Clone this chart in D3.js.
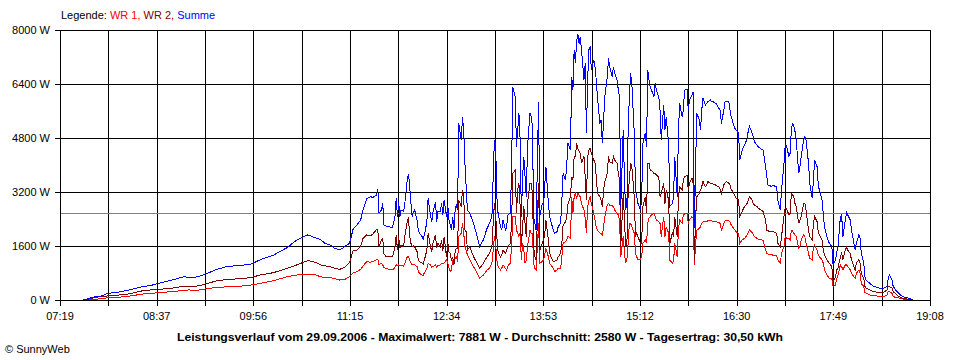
<!DOCTYPE html>
<html><head><meta charset="utf-8">
<script src="https://cdn.jsdelivr.net/npm/d3@7"></script>
<style>
html,body{margin:0;padding:0;background:#fff;}
svg{display:block;}
text{font-family:"Liberation Sans",Arial,sans-serif;font-size:11px;fill:#000;}
</style></head><body>
<svg id="chart" width="960" height="360"></svg>
<script>
// ---------- DATA ----------
const times = [
"07:38","07:42","07:48","07:53","07:58","08:05","08:13","08:20","08:27","08:34","08:41","08:50","09:00","09:04","09:08","09:13","09:19","09:27","09:35","09:46","09:54","10:02","10:13","10:24","10:32","10:41","10:48",
"10:51","10:55","10:59","11:03","11:07","11:11","11:15","11:18","11:21","11:24","11:26","11:29","11:32","11:34","11:37","11:38","11:39","11:41","11:42","11:43","11:45","11:47","11:50","11:52","11:53","11:54","11:55","11:56","11:57","11:59","12:00","12:02","12:03","12:04","12:05","12:06","12:07","12:08","12:10","12:11","12:12","12:14","12:15","12:16","12:18","12:19","12:21","12:22","12:23","12:25","12:26","12:27",
"12:29","12:30","12:31","12:32","12:34","12:35","12:36","12:37","12:38","12:39","12:40","12:41","12:42","12:43","12:44","12:46","12:47","12:48","12:49","12:50","12:51","12:53","12:56","12:59","13:01","13:04","13:07","13:09","13:11","13:12","13:13","13:14","13:15","13:16","13:18","13:19","13:20","13:22","13:23","13:24","13:26","13:27","13:28","13:30","13:31","13:32","13:33","13:34","13:35","13:36","13:37","13:38","13:39","13:40","13:42","13:43","13:44","13:45","13:46","13:47","13:49","13:50","13:52","13:53","13:54","13:55","13:57","13:58","14:01","14:02","14:04","14:05",
"14:07","14:08","14:09","14:11","14:12","14:13","14:15","14:16","14:17","14:18","14:19","14:20","14:21","14:22","14:23","14:24","14:26","14:27","14:28","14:29","14:30","14:31","14:32","14:34","14:35","14:36","14:37","14:39","14:40","14:41","14:42","14:43","14:45","14:46","14:47","14:49","14:50","14:51","14:53","14:54","14:55","14:56","14:58","14:59","15:00","15:01","15:02","15:03","15:04","15:05","15:07","15:08","15:09","15:10","15:12","15:13","15:14","15:16","15:17","15:18","15:19","15:20","15:21","15:23","15:24","15:25","15:27",
"15:28","15:29","15:31","15:32","15:33","15:35","15:36","15:38","15:39","15:40","15:42","15:43","15:44","15:46","15:47","15:48","15:50","15:51","15:52","15:54","15:55","15:56","15:57","15:58","16:00","16:01","16:02","16:03","16:05","16:06","16:07","16:09","16:10","16:11","16:13","16:14","16:16","16:17","16:18","16:20","16:21","16:22","16:24","16:25","16:26","16:28","16:29","16:30","16:32","16:33","16:35","16:36","16:37","16:39","16:40","16:41","16:43","16:44","16:45","16:47","16:48","16:50","16:51","16:52","16:54","16:55","16:56","16:58","16:59","17:00","17:02","17:03","17:04","17:06","17:07","17:09","17:10","17:11","17:13",
"17:14","17:15","17:16","17:17","17:18","17:19","17:21","17:22","17:23","17:25","17:26","17:27","17:29","17:30","17:32","17:33","17:34","17:36","17:37","17:38","17:40","17:41","17:42","17:44","17:45","17:46","17:48","17:49","17:51","17:52","17:53","17:55","17:56","17:57","17:59","18:00","18:01","18:03","18:04","18:06","18:07","18:08","18:10","18:11","18:12","18:14","18:15","18:16","18:19","18:22","18:25","18:27","18:30","18:33","18:34","18:35","18:37","18:38","18:41","18:44","18:46","18:49","18:52","18:54"
];
const summe = [
0,40,100,120,200,220,280,340,400,440,510,590,690,670,660,710,790,910,990,1030,1050,1190,1330,1550,1780,1930,1830,
1800,1680,1630,1530,1480,1580,1680,2120,2220,2370,2670,3010,3060,3040,3110,3280,2570,2670,2860,2220,2190,2170,2150,2470,3010,2470,2910,2470,2670,2620,2860,3560,3730,3360,2860,2470,2620,2670,2370,2070,1980,1880,1800,1930,2320,3010,2470,2320,2620,2910,2320,2620,
2620,2860,2520,2960,2470,2810,2370,2220,2070,2470,2070,2670,2810,2670,5230,4740,5410,5040,4050,3360,2670,2570,2270,1880,1580,1780,2120,2270,2470,3650,4740,4640,3050,2570,2170,2070,2370,2070,2170,2520,2570,3850,6320,6020,4540,5040,5530,4740,2470,3650,4250,3650,3060,4540,5530,5430,5140,2470,2270,2070,5880,2470,2860,2770,3360,3950,2860,2470,2070,1980,2020,2170,
2270,2960,3750,3560,4050,4640,4440,6620,6220,7410,7010,7650,7880,7600,7800,7410,6520,7010,4940,6520,7410,7510,6820,7110,6910,6520,6020,5230,5330,4640,5330,6020,6620,7160,6910,6620,6910,6720,6520,6220,6020,2770,5040,3560,2670,2860,5040,6020,6720,6420,4940,3260,3060,2860,2670,2960,4640,4940,4540,6820,6520,6320,6220,6020,6420,6220,6020,
5630,4740,5780,5040,5430,4640,2770,2860,3060,4250,3060,5040,5830,5430,5630,6220,6240,5630,5930,6070,6170,2120,4050,5530,5330,5040,5630,5980,5780,5830,5880,5930,5880,5880,5830,5810,5680,5630,5230,5630,5880,5880,5880,5630,5430,5190,5090,5040,4940,4150,4440,4540,4590,4790,5040,5140,4940,4840,4690,4590,4540,4490,4460,4440,3950,3650,3410,3380,3360,3410,3360,3360,2960,2670,3260,4050,4590,4590,4250,
4350,5040,5250,5140,4990,4740,3750,3950,4250,4740,4840,4740,4050,3460,3010,3560,4150,3950,3360,3260,2960,2570,2170,1880,1760,1680,1580,1040,1190,1430,1580,2470,2520,1880,2370,2590,2520,2370,2070,1680,1480,1680,1930,1830,1380,1090,690,590,490,400,380,350,350,400,640,740,590,400,250,150,100,70,30,0
];
const wr2 = [
0,20,80,100,120,140,170,220,280,300,320,350,410,400,400,430,490,570,610,630,660,740,810,940,1040,1170,1110,
1040,1010,990,940,910,970,1110,1480,1480,1600,1830,1930,1900,1960,2090,2070,1580,1780,1830,1360,1280,1300,1280,1580,1930,1480,1880,1530,1630,1580,1880,2320,2450,1880,1680,1580,1600,1580,1430,1190,1140,1090,1070,1190,1480,1980,1580,1430,1680,1930,1530,1680,
1580,1770,1450,1870,1280,1700,1430,1380,1180,1280,1030,1440,1530,1530,2960,2770,3260,3060,2070,2020,1480,1580,1280,1090,940,1090,1280,1380,1580,2270,2860,2570,1880,1430,1280,1330,1480,1380,1480,1580,1680,2270,3750,3850,2570,3260,3460,2770,1580,2170,2770,2270,1880,2860,3460,3460,3160,1580,1280,1190,3460,1480,1680,1780,1930,2370,1780,1380,1130,1140,1190,1280,
1380,1680,2220,2320,2470,2860,3060,3650,3560,4250,4250,4640,4490,4400,4350,4050,4250,3650,2960,4250,4440,4490,4350,4150,4050,3650,3160,3060,2960,2770,3260,3510,3750,4250,4100,4050,4250,4150,4050,3750,3560,1580,3160,2370,1580,1680,3160,3560,4050,3950,3060,1880,1980,1880,1680,1680,2770,3060,2570,4050,4050,3850,3850,3750,3750,3700,3650,
3060,3160,3460,2860,3260,2960,1680,1980,1880,2470,1880,3060,3360,3260,3560,3650,3700,3260,3460,3610,3460,1190,2470,3060,3160,3260,3360,3510,3360,3410,3510,3460,3460,3440,3410,3380,3360,3280,3160,3410,3480,3510,3460,3410,3280,3160,3080,3010,2960,2470,2620,2720,2770,2860,2960,3060,2960,2860,2810,2770,2720,2670,2650,2620,2370,2070,2050,2020,2020,2020,2000,1980,1680,1580,1880,2470,2720,2720,2520,
2570,3160,3110,3060,2860,2770,2270,2370,2470,2860,2860,2670,2070,1880,1780,2270,2470,2320,1980,1930,1780,1480,1330,1190,1140,1090,990,540,690,890,940,1280,1380,1190,1480,1560,1480,1380,1190,990,890,1090,1190,1090,790,640,400,350,300,250,230,220,220,300,400,400,350,250,150,70,50,30,10,0
];
const wr1 = [
0,10,20,40,70,80,100,140,180,200,220,250,280,300,280,300,340,370,390,410,440,490,570,690,740,770,740,
690,670,670,630,590,610,690,810,840,910,1010,1140,1120,1140,1190,1210,1040,1090,1040,970,930,910,890,970,1040,1010,1040,1010,1040,990,1090,1280,1300,1190,1090,1040,1060,1040,990,840,790,740,740,810,940,1090,1040,970,990,1040,970,1030,
1040,1090,1070,1090,1190,1110,940,840,890,1190,1040,1230,1280,1140,1880,1980,2270,1980,1580,1480,1330,1190,990,790,640,740,890,940,1090,1480,1880,1680,1190,990,890,940,1040,940,890,1010,1090,1580,2470,2470,2070,1980,1880,1980,1190,1680,1480,1090,1180,1580,2070,1980,1980,1090,940,890,2270,1090,1140,1190,1330,1530,1280,1090,940,840,890,940,
940,1280,1680,1730,1780,1880,1830,3060,2570,3060,3160,3010,3160,3110,3060,2860,2670,2420,1980,2770,2960,3060,2860,2570,2370,2170,2070,1980,1960,1930,2170,2470,2810,2860,2810,2790,2770,2670,2570,2520,2370,1280,1880,1380,1090,1190,1680,2270,2270,2170,1980,1380,1280,1190,1190,1280,1680,1780,1680,2270,2420,2470,2520,2570,2470,2370,2320,
2270,1880,2470,1880,2170,1980,1180,1090,1140,1680,1280,2070,2370,2270,2520,2550,2570,2270,2370,2470,2420,1040,1680,2070,2120,2170,2270,2320,2320,2320,2350,2370,2350,2320,2320,2320,2290,2270,2070,2270,2350,2370,2350,2320,2220,2120,2070,2020,1980,1680,1780,1810,1830,1930,2020,2070,2000,1930,1880,1830,1800,1780,1780,1760,1480,1380,1360,1360,1340,1330,1330,1320,1190,1090,1380,1580,1880,1830,1830,
1780,2070,2050,1980,1930,1880,1530,1580,1780,1930,1880,1680,1380,1230,1190,1580,1630,1480,1330,1280,1190,1090,890,740,690,640,640,400,440,640,740,1040,990,890,1040,1040,990,890,790,690,640,790,890,790,490,400,230,200,150,130,120,100,100,150,250,250,200,100,70,50,30,20,10,0
];
const yTicks = [0, 1600, 3200, 4800, 6400, 8000];
const xTickLabels = ["07:19","08:37","09:56","11:15","12:34","13:53","15:12","16:30","17:49","19:08"];
const average = 2580;
const legend = [["Legende: ", "#000000"], ["WR 1, ", "#ff0000"], ["WR 2, ", "#800000"], ["Summe", "#0000ff"]];
const titleText = "Leistungsverlauf vom 29.09.2006 - Maximalwert: 7881 W - Durchschnitt: 2580 W - Tagesertrag: 30,50 kWh";
const copyright = "\u00A9 SunnyWeb";

// ---------- CHART ----------
const parseT = s => { const p = s.split(":").map(Number); return p[0] * 60 + p[1]; };
const svg = d3.select("#chart");
const t0 = parseT(xTickLabels[0]), t1 = parseT(xTickLabels[xTickLabels.length - 1]);
const x = d3.scaleLinear().domain([t0, t1]).range([60, 930]);
const y = d3.scaleLinear().domain([0, 8000]).range([300, 30]);
const crisp = v => Math.round(v) + 0.5;

const g = svg.append("g").attr("shape-rendering", "crispEdges");

// vertical grid lines (major + minor)
const nDiv = (xTickLabels.length - 1) * 2;
const gridT = d3.range(nDiv + 1).map(i => t0 + i * (t1 - t0) / nDiv);
g.selectAll("line.vg").data(gridT).join("line")
  .attr("x1", d => crisp(x(d))).attr("x2", d => crisp(x(d)))
  .attr("y1", y(8000)).attr("y2", y(0) + 6)
  .attr("stroke", "#000").attr("stroke-width", 1);

// horizontal grid lines
g.selectAll("line.hg").data(yTicks).join("line")
  .attr("x1", 55).attr("x2", 931)
  .attr("y1", d => crisp(y(d))).attr("y2", d => crisp(y(d)))
  .attr("stroke", "#000").attr("stroke-width", 1);

// average line
g.append("line")
  .attr("x1", 61).attr("x2", 930)
  .attr("y1", crisp(y(average))).attr("y2", crisp(y(average)))
  .attr("stroke", "#808080").attr("stroke-width", 1);

// y labels
svg.selectAll("text.yl").data(yTicks).join("text")
  .attr("x", 50).attr("y", d => y(d) + 4)
  .attr("text-anchor", "end")
  .text(d => d + " W");

// x labels
svg.selectAll("text.xl").data(xTickLabels).join("text")
  .attr("x", (d, i) => x(gridT[i * 2]))
  .attr("y", 320)
  .attr("text-anchor", "middle")
  .text(d => d);

// data lines
const tv = times.map(parseT);
const line = d3.line().x(d => x(d[0])).y(d => y(d[1]));
const series = [[wr1, "#ff0000"], [wr2, "#800000"], [summe, "#0000ff"]];
series.forEach(([vals, col]) => {
  g.append("path")
    .attr("d", line(tv.map((t, i) => [t, vals[i]])))
    .attr("fill", "none").attr("stroke", col).attr("stroke-width", 1);
});

// legend
const lt = svg.append("text").attr("x", 61).attr("y", 19);
legend.forEach(([txt, col]) => lt.append("tspan").attr("fill", col).style("fill", col).text(txt));

// title
svg.append("text")
  .attr("x", 177).attr("y", 341)
  .attr("font-weight", "bold")
  .attr("textLength", 606).attr("lengthAdjust", "spacingAndGlyphs")
  .text(titleText);

// copyright
svg.append("text").attr("x", 5).attr("y", 353).text(copyright);
</script>
</body></html>
